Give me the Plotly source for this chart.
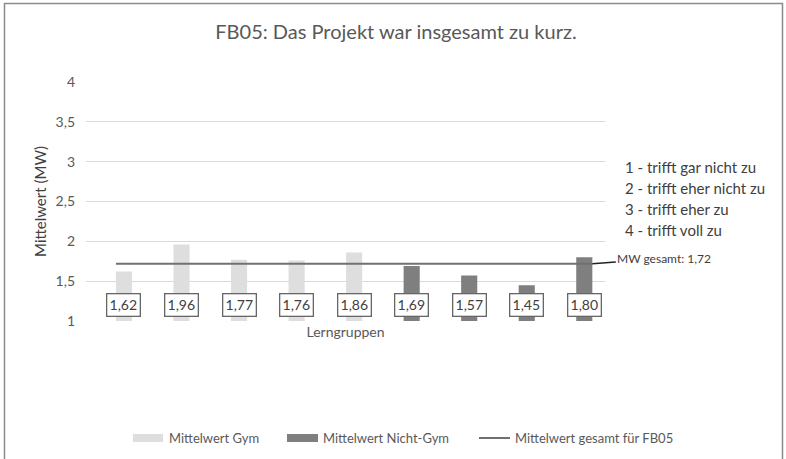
import plotly.graph_objects as go

# ---- data ----
groups = ["LG1", "LG2", "LG3", "LG4", "LG5", "LG6", "LG7", "LG8", "LG9"]
gym_values = [1.62, 1.96, 1.77, 1.76, 1.86, None, None, None, None]
nongym_values = [None, None, None, None, None, 1.69, 1.57, 1.45, 1.80]
mean_total = 1.72
scale_labels = ["1 - trifft gar nicht zu", "2 - trifft eher nicht zu",
                "3 - trifft eher zu", "4 - trifft voll zu"]
y_ticks = [1, 1.5, 2, 2.5, 3, 3.5, 4]
y_tick_text = ["1", "1,5", "2", "2,5", "3", "3,5", "4"]
legend_names = ["Mittelwert Gym", "Mittelwert Nicht-Gym", "Mittelwert gesamt für FB05"]

FONT = "Lato"
TXT = "#595959"
GYM_C = "#dedede"
NON_C = "#7f7f7f"
LINE_C = "#707070"
W, H = 786, 459
L, R, T, B = 86, 181, 82, 138
pw = W - L - R
ph = H - T - B

def px_x(p):
    return (p - L) / pw

def px_y(p):
    return (H - B - p) / ph

xpos = list(range(len(groups)))
bw = 0.28

fig = go.Figure()
fig.add_trace(go.Bar(x=xpos, y=gym_values, name=legend_names[0],
                     marker=dict(color=GYM_C, line=dict(width=0)), width=bw))
fig.add_trace(go.Bar(x=xpos, y=nongym_values, name=legend_names[1],
                     marker=dict(color=NON_C, line=dict(width=0)), width=bw))
fig.add_trace(go.Scatter(x=[xpos[0] - bw / 2, xpos[-1] + bw / 2],
                         y=[mean_total, mean_total], mode="lines",
                         name=legend_names[2],
                         line=dict(color=LINE_C, width=2)))

annotations = []
for i, (g, n) in enumerate(zip(gym_values, nongym_values)):
    v = g if g is not None else n
    annotations.append(dict(
        x=xpos[i], y=1.2, xref="x", yref="y", showarrow=False,
        text=f"{v:.2f}".replace(".", ","),
        font=dict(family=FONT, size=14, color="#404040"),
        bgcolor="white", bordercolor="#666666", borderwidth=1.3,
        width=30, height=19, borderpad=1,
    ))

annotations.append(dict(
    x=xpos[-1] + bw / 2, y=mean_total, xref="x", yref="y",
    text="MW gesamt: " + f"{mean_total:.2f}".replace(".", ","),
    showarrow=True, arrowhead=0, arrowwidth=1.5, arrowcolor="#222222",
    ax=72, ay=-5, xanchor="center",
    font=dict(family=FONT, size=12, color="#404040"),
))

for k, s in enumerate(scale_labels):
    annotations.append(dict(
        x=px_x(623), y=px_y(167 + 21 * k), xref="paper", yref="paper",
        text=s, showarrow=False, xanchor="left", yanchor="middle",
        font=dict(family=FONT, size=15, color="#404040"),
    ))

# custom legend (wide swatches like the reference)
leg_y = 438
leg_swatch_x = [133, 287, 479]
shapes = [dict(type="rect", xref="paper", yref="paper",
               x0=px_x(4.5), x1=px_x(782.5), y0=px_y(470), y1=px_y(3.5),
               line=dict(color="#8c8c8c", width=1.5), layer="below")]
shapes.append(dict(type="rect", xref="paper", yref="paper",
                   x0=px_x(leg_swatch_x[0]), x1=px_x(leg_swatch_x[0] + 30),
                   y0=px_y(leg_y + 4), y1=px_y(leg_y - 4),
                   fillcolor=GYM_C, line=dict(width=0)))
shapes.append(dict(type="rect", xref="paper", yref="paper",
                   x0=px_x(leg_swatch_x[1]), x1=px_x(leg_swatch_x[1] + 31),
                   y0=px_y(leg_y + 4), y1=px_y(leg_y - 4),
                   fillcolor=NON_C, line=dict(width=0)))
shapes.append(dict(type="line", xref="paper", yref="paper",
                   x0=px_x(leg_swatch_x[2]), x1=px_x(leg_swatch_x[2] + 31),
                   y0=px_y(leg_y), y1=px_y(leg_y),
                   line=dict(color=LINE_C, width=2)))
for sx, name in zip(leg_swatch_x, legend_names):
    annotations.append(dict(
        x=px_x(sx + 34), y=px_y(leg_y), xref="paper", yref="paper",
        text=name, showarrow=False, xanchor="left", yanchor="middle",
        font=dict(family=FONT, size=13, color=TXT),
    ))

fig.update_layout(
    width=W, height=H,
    margin=dict(l=L, r=R, t=T, b=B),
    paper_bgcolor="white", plot_bgcolor="white",
    barmode="overlay",
    showlegend=False,
    title=dict(text="FB05: Das Projekt war insgesamt zu kurz.",
               x=396 / W, y=1 - 32 / H, xanchor="center", yanchor="middle",
               font=dict(family=FONT, size=20, color=TXT)),
    xaxis=dict(range=[-0.66, 8.36], showticklabels=False, showgrid=False,
               zeroline=False, showline=False, ticks="",
               title=dict(text="Lerngruppen", standoff=6,
                          font=dict(family=FONT, size=14, color=TXT))),
    yaxis=dict(range=[1, 4], tickvals=y_ticks, ticktext=y_tick_text,
               showgrid=True, gridcolor="#d9d9d9", gridwidth=1.3,
               zeroline=False, showline=False, ticks="",
               ticklabelstandoff=10,
               tickfont=dict(family=FONT, size=14, color=TXT),
               title=dict(text="Mittelwert (MW)", standoff=5,
                          font=dict(family=FONT, size=15, color="#404040"))),
    annotations=annotations,
    shapes=shapes,
)

fig.write_html("out.html", config={"displayModeBar": False},
               post_script="document.body.style.margin='0';")
